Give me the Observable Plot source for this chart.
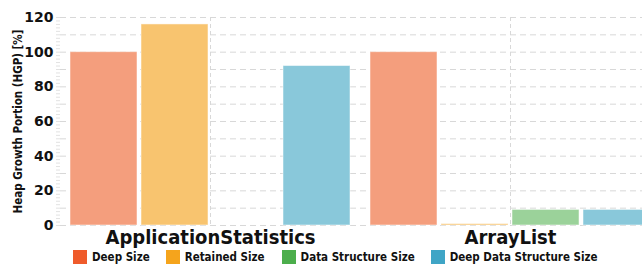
<!DOCTYPE html>
<html>
<head>
<meta charset="utf-8">
<script src="https://cdn.jsdelivr.net/npm/d3@7"></script>
<script src="https://cdn.jsdelivr.net/npm/@observablehq/plot@0.6"></script>
<style>
  html, body { margin: 0; padding: 0; background: #fff; overflow: hidden; }
  #chart { width: 642px; height: 248px; overflow: hidden; }
  #chart svg { max-width: none !important; }
  #legend { display: flex; align-items: center; height: 17px; padding-left: 73px;
            font-family: "DejaVu Sans Condensed", "DejaVu Sans", sans-serif; font-weight: bold; font-size: 11.5px; color: #111; }
  #legend .item { display: flex; align-items: center; }
  #legend .sw { width: 14px; height: 14px; margin-right: 5px; }
</style>
</head>
<body>
<div id="chart"></div>
<div id="legend"></div>
<script>
const categories = ["ApplicationStatistics", "ArrayList"];
const series = ["Deep Size", "Retained Size", "Data Structure Size", "Deep Data Structure Size"];
const appStatsValues = [100, 116, 0, 92];
const arrayListValues = [100, 0.8, 9, 9];
const yTicks = [0, 20, 40, 60, 80, 100, 120];
const yLabel = "Heap Growth Portion (HGP) [%]";
const barColors = ["#f49e7d", "#f8c46f", "#9bd29a", "#89c8da"];
const swatchColors = ["#ef5b2b", "#f5a41c", "#4cae4c", "#3fa5c6"];
const legendGaps = [16, 17, 16, 0];

const valuesByCategory = [appStatsValues, arrayListValues];
const data = [];
categories.forEach((c, i) => series.forEach((s, j) => data.push({category: c, series: s, value: valuesByCategory[i][j]})));

const plot = Plot.plot({
  width: 662,
  height: 248,
  marginLeft: 60,
  marginRight: 2,
  marginTop: 17,
  marginBottom: 23,
  style: {fontFamily: "DejaVu Sans, sans-serif", color: "#111", background: "#fff", maxWidth: "none"},
  fx: {domain: categories, padding: 0, label: null},
  x: {domain: series, paddingInner: 0.06, paddingOuter: 0.13, axis: null},
  y: {domain: [0, 120], label: null},
  color: {domain: series, range: barColors},
  marks: [
    Plot.gridY({ticks: d3.range(0, 121, 10), stroke: "#d8d8d8", strokeOpacity: 1, strokeDasharray: "6,4"}),
    Plot.gridFx({stroke: "#d8d8d8", strokeOpacity: 1, strokeDasharray: "4,3"}),
    Plot.axisY({ticks: d3.range(0, 121, 2), tickSize: 4, stroke: "#e2e2e2", text: null, label: null}),
    Plot.barY(data, {fx: "category", x: "series", y: "value", fill: "series", stroke: "#fff", strokeOpacity: 0.5, strokeWidth: 1}),
    Plot.axisY({ticks: yTicks, tickSize: 0, tickPadding: 7, fontSize: 14, fontWeight: "bold", label: null}),
    Plot.text([{fx: categories[0], t: yLabel}], {fx: "fx", text: "t", frameAnchor: "left", textAnchor: "middle", rotate: -90, dx: -42, fontSize: 11.5, fontWeight: "bold", fontFamily: "DejaVu Sans Condensed, DejaVu Sans, sans-serif"}),
    Plot.axisFx({anchor: "bottom", tickSize: 0, tickPadding: 4, fontSize: 20, fontWeight: "bold", fontFamily: "DejaVu Sans Condensed, DejaVu Sans, sans-serif", label: null})
  ]
});
document.getElementById("chart").appendChild(plot);

const legend = document.getElementById("legend");
series.forEach((s, i) => {
  const item = document.createElement("div");
  item.className = "item";
  item.style.marginRight = legendGaps[i] + "px";
  const sw = document.createElement("span");
  sw.className = "sw";
  sw.style.background = swatchColors[i];
  const t = document.createElement("span");
  t.textContent = s;
  item.appendChild(sw);
  item.appendChild(t);
  legend.appendChild(item);
});
</script>
</body>
</html>
